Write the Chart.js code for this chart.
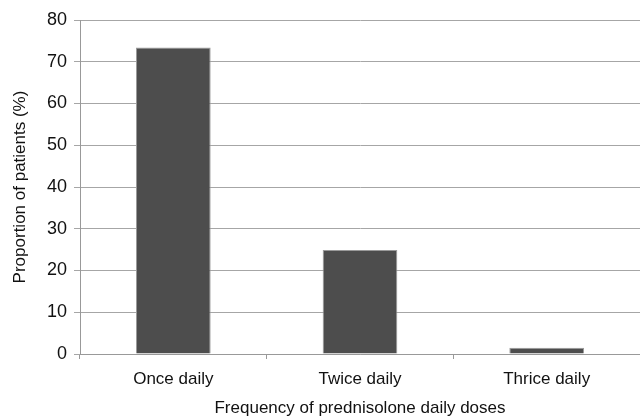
<!DOCTYPE html>
<html>
<head>
<meta charset="utf-8">
<script src="https://cdn.jsdelivr.net/npm/chart.js@4/dist/chart.umd.min.js"></script>
<style>
  html, body { margin: 0; padding: 0; background: #fff; }
  #wrap { width: 640px; height: 419px; }
</style>
</head>
<body>
<div id="wrap"><canvas id="c" width="640" height="419"></canvas></div>
<script>
const categories = ["Once daily", "Twice daily", "Thrice daily"];
const proportions = [73.4, 24.9, 1.5];
const yTicks = [0, 10, 20, 30, 40, 50, 60, 70, 80];
const xTitle = "Frequency of prednisolone daily doses";
const yTitle = "Proportion of patients (%)";

const FONT = "'Liberation Sans', Arial, sans-serif";

new Chart(document.getElementById('c'), {
  type: 'bar',
  data: {
    labels: categories,
    datasets: [{
      data: proportions,
      backgroundColor: '#4d4d4d',
      borderColor: '#9a9a9a',
      borderWidth: 1,
      barPercentage: 0.4,
      categoryPercentage: 1.0
    }]
  },
  options: {
    responsive: false,
    animation: false,
    devicePixelRatio: 1,
    layout: { padding: { top: 20, right: 0, bottom: 0, left: 0 } },
    plugins: { legend: { display: false }, tooltip: { enabled: false } },
    scales: {
      x: {
        grid: { display: true, drawOnChartArea: false, offset: true, color: '#999', tickLength: 5, lineWidth: 1 },
        border: { display: true, color: '#999', width: 1 },
        ticks: { color: '#111', font: { family: FONT, size: 17 }, padding: 10 },
        title: { display: true, text: xTitle, color: '#111', font: { family: FONT, size: 17 }, padding: { top: 5, bottom: 0 } },
        afterFit: (s) => { s.height = 65; }
      },
      y: {
        min: 0, max: 80,
        afterBuildTicks: (s) => { s.ticks = yTicks.map(v => ({ value: v })); },
        grid: { color: '#a6a6a6', tickLength: 6, lineWidth: 1 },
        border: { display: true, color: '#999', width: 1 },
        ticks: { color: '#111', font: { family: FONT, size: 18 }, padding: 7 },
        title: { display: true, text: yTitle, color: '#111', font: { family: FONT, size: 17 }, padding: { top: 10, bottom: 0 } },
        afterFit: (s) => { s.width = 80; }
      }
    }
  }
});
</script>
</body>
</html>
